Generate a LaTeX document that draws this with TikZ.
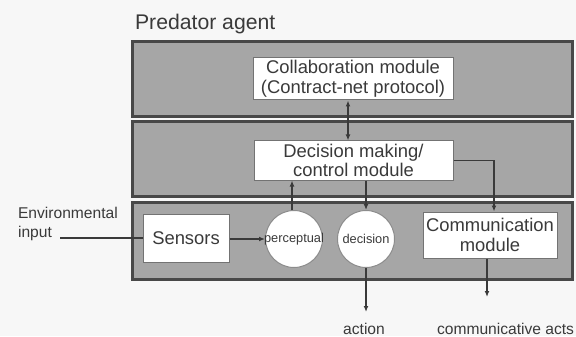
\documentclass[tikz,border=0pt]{standalone}
\usepackage{fontspec}
\setmainfont{Liberation Sans}
\usetikzlibrary{arrows.meta}

\definecolor{paper}{RGB}{247,247,247}
\definecolor{layerfill}{RGB}{166,166,166}
\definecolor{layerline}{RGB}{72,72,72}
\definecolor{inkgray}{RGB}{58,58,58}

\begin{document}
\begin{tikzpicture}[x=0.5pt,y=-0.5pt,>={Latex[length=3pt,width=2.4pt]}]

      \fill[paper] (0,0) rectangle (576,336);
      \useasboundingbox (0,0) rectangle (576,336);

      % the three layers of the agent
      \begin{scope}[fill=layerfill, draw=layerline, line width=1.5pt]
        \filldraw (132,42)  rectangle (572,117);
        \filldraw (132,122) rectangle (572,196);
        \filldraw (132,202) rectangle (572,279);
      \end{scope}

      \begin{scope}[every node/.style={text=inkgray}]
        \node[anchor=west, font=\fontsize{10.6}{12}\selectfont] (title) at (128,24) {Predator agent};
        \node[anchor=west, align=left, font=\fontsize{7.8}{9.6}\selectfont] (envin) at (11,224) {Environmental\\input};
        \node[font=\fontsize{7.8}{9}\selectfont] (action) at (364,329) {action};
        \node[anchor=west, font=\fontsize{7.8}{9}\selectfont] (acts) at (430,329) {communicative acts};
      \end{scope}

      \begin{scope}[every node/.style={rectangle, fill=white, draw=black!55, line width=0.5pt,
          text=inkgray, align=center, inner sep=0pt, font=\fontsize{9.2}{9.8}\selectfont}]
        \node[minimum width=100pt, minimum height=21pt] (collab) at (353,79) {Collaboration module\\(Contract-net protocol)};
        \node[minimum width=99.5pt, minimum height=19.5pt] (decide) at (353.5,160.5) {Decision making/\\control module};
        \node[minimum width=43pt, minimum height=24pt] (sensors) at (186,238) {Sensors};
        \node[minimum width=67pt, minimum height=23pt] (comm) at (490,235) {Communication\\module};
      \end{scope}

      \begin{scope}[every node/.style={circle, fill=white, draw=black!45, line width=0.5pt,
          text=inkgray, inner sep=0pt, minimum size=28.5pt, font=\fontsize{6.4}{7}\selectfont}]
        \node (percept) at (294,239) {\makebox[0pt]{perceptual}};
        \node (decis)   at (366,239) {\makebox[0pt]{decision}};
      \end{scope}

      \coordinate (envend) at (60,238);
      \coordinate (actend) at (366,312);
      \coordinate (commend) at (487,297);

      \begin{scope}[every path/.style={draw=inkgray, line width=0.6pt}]
        \draw ([xshift=-2.5pt]collab.south) edge[<->] ([xshift=-2.5pt]collab.south |- decide.north);
        \draw (envend) -- (sensors.west |- envend);
        \draw[->] (sensors.east |- percept.west) -- (percept.west);
        \draw[->] ([xshift=-1pt]percept.north) -- ([xshift=-1pt]percept.north |- decide.south);
        \draw[->] (decis.north |- decide.south) -- (decis.north);
        \draw[->] (decide.east) -| ([xshift=2pt]comm.north);
        \draw[->] (decis.south) -- (actend);
        \draw[->] ([xshift=-1.5pt]comm.south) -- (commend);
      \end{scope}

    \end{tikzpicture}
\end{document}
